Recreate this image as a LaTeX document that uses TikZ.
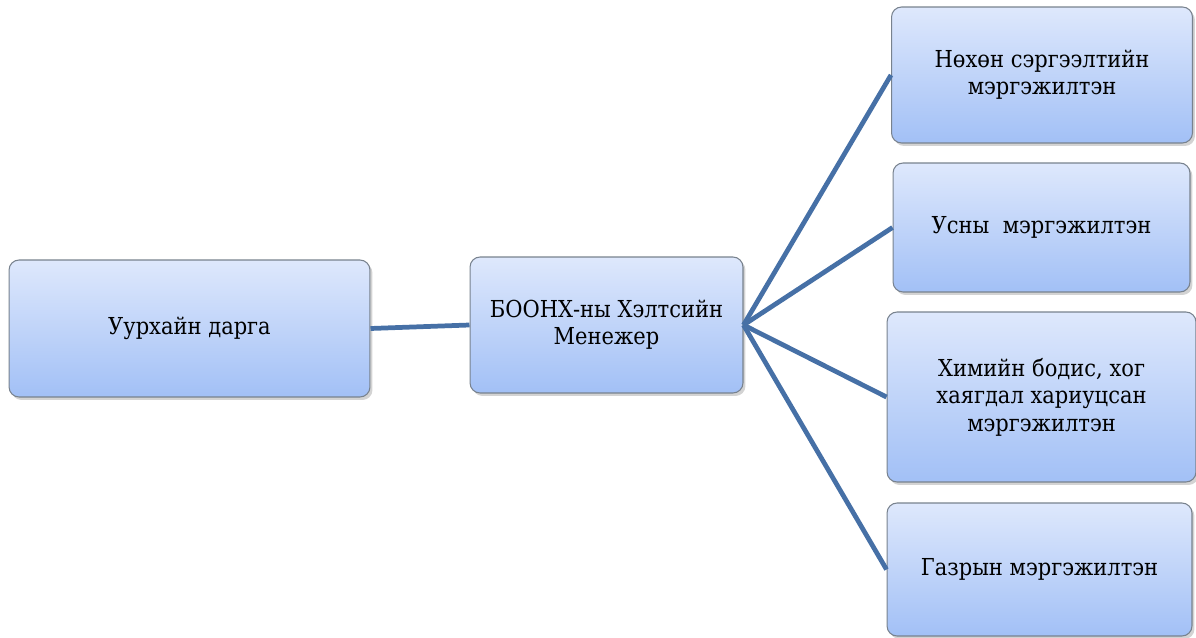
\documentclass[tikz,border=0pt]{standalone}
\usepackage{fontspec}
\setmainfont{DejaVu Serif Condensed}
\usepackage{tikz}
\usetikzlibrary{shadows}

\definecolor{boxtop}{RGB}{222,232,252}
\definecolor{boxbot}{RGB}{162,192,246}
\definecolor{boxline}{RGB}{120,130,142}
\definecolor{linkblue}{RGB}{70,112,166}

\begin{document}
\begin{tikzpicture}[x=0.02cm,y=-0.02cm,
    unit/.style={draw=boxline,line width=0.6pt,rounded corners=0.2cm,
      top color=boxtop,bottom color=boxbot,align=center,
      font=\fontsize{13.3}{15.6}\selectfont,
      drop shadow={shadow xshift=0.05cm,shadow yshift=-0.06cm,opacity=0.35}},
    link/.style={draw=linkblue,line width=2.7pt}]
      \useasboundingbox (0,0) rectangle (1196,638);

      % left
      \node[unit,minimum width=7.22cm,minimum height=2.74cm] (mine) at (189.5,328.5) {Уурхайн дарга};
      \node[unit,minimum width=5.46cm,minimum height=2.72cm] (manager) at (606.5,325) {БООНХ-ны Хэлтсийн\\Менежер};

      % right
      \node[unit,minimum width=6.02cm,minimum height=2.72cm] (recov) at (1042,75) {Нөхөн сэргээлтийн\\мэргэжилтэн};
      \node[unit,minimum width=5.94cm,minimum height=2.58cm] (water) at (1041.5,227.5) {Усны \ мэргэжилтэн};
      \node[unit,minimum width=6.18cm,minimum height=3.40cm] (chem) at (1041.5,397) {Химийн бодис, хог\\хаягдал хариуцсан\\мэргэжилтэн};
      \node[unit,minimum width=6.10cm,minimum height=2.66cm] (land) at (1039.5,569.5) {Газрын мэргэжилтэн};

      \path[link]
      (mine.east) edge (manager.west)
      (manager.east) edge (recov.west)
      (manager.east) edge (water.west)
      (manager.east) edge (chem.west)
      (manager.east) edge (land.west);
    \end{tikzpicture}
\end{document}
